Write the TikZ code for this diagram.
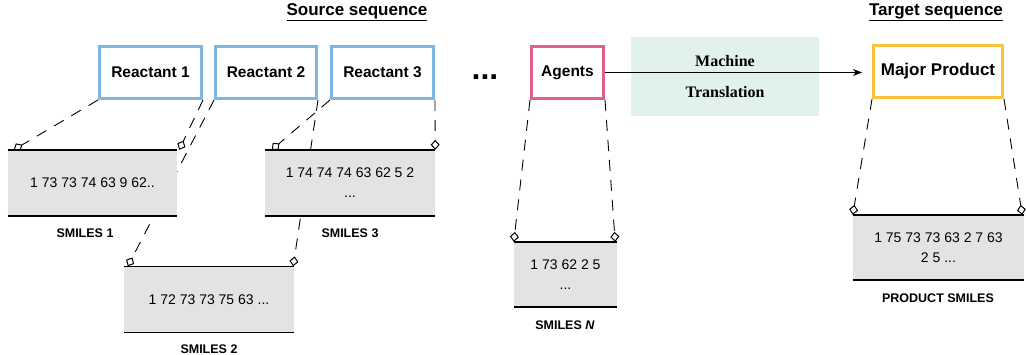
\documentclass[tikz,border=0pt]{standalone}
\usepackage{fontspec}
\setmainfont{Liberation Sans}
\newfontfamily\mtfont{Liberation Serif}
\usepackage{tikz}
\usetikzlibrary{positioning,arrows.meta,backgrounds}

\definecolor{reactblue}{HTML}{7EB8E2}
\definecolor{agentpink}{HTML}{DF6189}
\definecolor{prodyellow}{HTML}{FBC23C}
\definecolor{mtteal}{HTML}{E1F1EC}
\definecolor{smilesgray}{HTML}{E3E3E3}

\begin{document}
\begin{tikzpicture}[
    x=1pt, y=-1pt,
    font=\fontsize{15.5}{18}\selectfont\bfseries,
    molbox/.style={draw=#1, line width=3pt, fill=white, minimum height=52pt, inner sep=0pt},
    seqbox/.style={fill=smilesgray, align=center, font=\fontsize{14}{20}\selectfont, minimum height=66pt, inner sep=0pt},
    seqlabel/.style={font=\fontsize{12.5}{14}\selectfont\bfseries},
    seqtitle/.style={font=\fontsize{17}{20}\selectfont\bfseries},
    link/.style={line width=0.9pt, dash pattern=on 11pt off 9pt, -{Diamond[open, length=10pt, width=9pt, line width=1pt]}},
    seqrule/.style={line width=1.5pt}
]
\useasboundingbox (0,0) rectangle (1026,355);

% Titles
\node[seqtitle] (srctitle) at (357,12) {\underline{Source sequence}};
\node[seqtitle] (tgttitle) at (936,12) {\underline{Target sequence}};

% Source molecules
\node[molbox=reactblue, minimum width=102pt] (r1) at (150.5,72.5) {Reactant 1};
\node[molbox=reactblue, minimum width=101pt] (r2) at (266,72.5) {Reactant 2};
\node[molbox=reactblue, minimum width=102pt] (r3) at (382.5,72.5) {Reactant 3};
\node[font=\fontsize{32}{32}\selectfont\bfseries] (dots) at (485,77) {...};
\node[molbox=agentpink, minimum width=72pt] (ag) at (567.5,72.5) {Agents};

% Machine translation
\node[fill=mtteal, minimum width=188pt, minimum height=79pt, align=center,
      font=\mtfont\fontsize{16}{31}\selectfont\bfseries] (mt) at (725,76.5) {Machine\\Translation};

% Target molecule
\node[molbox=prodyellow, minimum width=129pt, font=\fontsize{17}{20}\selectfont\bfseries] (mp) at (938,71.5) {Major Product};

\draw[line width=1pt, -{Stealth[length=9pt, width=7pt]}, shorten >=10pt] (ag.east) -- (ag.east -| mp.west);

% SMILES boxes
\node[seqbox, minimum width=169pt] (s1) at (92.5,183) {1 73 73 74 63 9 62..};
\node[seqbox, minimum width=170pt] (s3) at (350,183) {1 74 74 74 63 62 5 2\\...};
\node[seqbox, minimum width=170pt] (s2) at (209,299.5) {1 72 73 73 75 63 ...};
\node[seqbox, minimum width=103pt, minimum height=65pt] (sn) at (565.5,274.5) {1 73 62 2 5\\...};
\node[seqbox, minimum width=171pt, minimum height=65pt] (sp) at (938.5,247.5) {1 75 73 73 63 2 7 63\\2 5 ...};

\foreach \b in {s1,s2,s3,sn,sp}
  \draw[seqrule] (\b.north west) -- (\b.north east) (\b.south west) -- (\b.south east);

\node[seqlabel] (l1) at (85,233) {SMILES 1};
\node[seqlabel] (l2) at (209,349) {SMILES 2};
\node[seqlabel] (l3) at (350,233) {SMILES 3};
\node[seqlabel] (ln) at (565,325) {SMILES \textit{N}};
\node[seqlabel] (lp) at (938,298) {PRODUCT SMILES};

% Dashed links, behind the boxes
\begin{scope}[on background layer]
\draw[link] (r1.south west) -- ([xshift=6pt]s1.north west);
\draw[link] (r1.south east) -- ([xshift=2pt]s1.north east);
\draw[link] (r2.south west) -- ([xshift=4pt]s2.north west);
\draw[link] (r2.south east) -- ([xshift=-1pt]s2.north east);
\draw[link] (r3.south west) -- ([xshift=7pt]s3.north west);
\draw[link] (r3.south east) -- (s3.north east);
\draw[link] (ag.south west) -- (sn.north west);
\draw[link] (ag.south east) -- ([xshift=-2pt]sn.north east);
\draw[link] (mp.south west) -- (sp.north west);
\draw[link] (mp.south east) -- ([xshift=-2pt]sp.north east);
\end{scope}

\end{tikzpicture}
\end{document}
